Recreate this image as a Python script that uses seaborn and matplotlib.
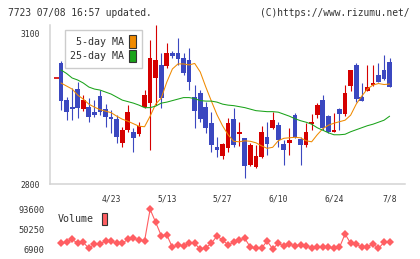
import numpy as np
import pandas as pd
import seaborn as sns
import matplotlib
matplotlib.use("Agg")
import matplotlib.pyplot as plt
from matplotlib.patches import Patch

# 60 trading days up to 7/8 (code 7723)
opens = [3041, 2967, 2953, 2989, 2949, 2953, 2943, 2975, 2949, 2934,
         2929, 2881, 2907, 2904, 2899, 2954, 2961, 3011, 3037, 3035,
         3060, 3060, 3050, 3047, 2974, 2982, 2954, 2921, 2874, 2856,
         2871, 2929, 2899, 2891, 2838, 2834, 2854, 2893, 2911, 2917,
         2880, 2882, 2937, 2889, 2877, 2919, 2937, 2967, 2935, 2904,
         2949, 2939, 2996, 3037, 2974, 2986, 2997, 3017, 3027, 3042]
highs = [3044, 2973, 2991, 3003, 2977, 2971, 2967, 2987, 2959, 2947,
         2937, 2914, 2957, 2911, 2924, 2987, 3087, 3117, 3061, 3081,
         3065, 3091, 3061, 3071, 2997, 2987, 2964, 2944, 2893, 2882,
         2931, 2951, 2923, 2892, 2882, 2878, 2916, 2923, 2944, 2923,
         2888, 2911, 2941, 2894, 2922, 2939, 2961, 2977, 2937, 2942,
         2951, 2997, 3027, 3041, 3001, 3037, 3037, 3041, 3057, 3050]
lows = [2947, 2927, 2927, 2931, 2945, 2923, 2933, 2937, 2913, 2901,
        2882, 2873, 2903, 2864, 2896, 2951, 2868, 2957, 2951, 3031,
        3051, 3037, 3017, 2987, 2911, 2923, 2901, 2864, 2854, 2849,
        2864, 2874, 2876, 2811, 2836, 2831, 2852, 2858, 2910, 2874,
        2838, 2858, 2892, 2838, 2874, 2908, 2931, 2908, 2902, 2903,
        2908, 2935, 2986, 2964, 2965, 2985, 2996, 3003, 3007, 2993]
closes = [2965, 2944, 2950, 2951, 2967, 2933, 2937, 2943, 2933, 2929,
          2894, 2907, 2944, 2891, 2915, 2977, 3050, 3047, 2971, 3060,
          3055, 3048, 3020, 3004, 2946, 2929, 2911, 2878, 2868, 2880,
          2921, 2878, 2903, 2836, 2878, 2856, 2904, 2880, 2927, 2888,
          2868, 2888, 2894, 2878, 2904, 2924, 2957, 2912, 2904, 2908,
          2939, 2982, 3027, 2969, 2966, 2994, 3002, 3004, 3009, 2994]
ma5 = [3001, 2995, 2989, 2977, 2969, 2959, 2953, 2948, 2945, 2942,
       2935, 2929, 2925, 2920, 2915, 2914, 2935, 2959, 2971, 3003,
       3029, 3039, 3039, 3037, 3040, 3023, 2993, 2965, 2938, 2916,
       2898, 2885, 2884, 2886, 2885, 2882, 2876, 2871, 2873, 2886,
       2891, 2892, 2893, 2892, 2886, 2884, 2898, 2910, 2917, 2921,
       2924, 2927, 2937, 2959, 2975, 2989, 2997, 3000, 2998, 2999]
ma25 = [3027, 3020, 3011, 3007, 3001, 2993, 2989, 2987, 2983, 2979,
        2973, 2967, 2964, 2961, 2957, 2952, 2952, 2955, 2961, 2963,
        2966, 2969, 2972, 2972, 2970, 2966, 2965, 2965, 2963, 2959,
        2957, 2956, 2954, 2952, 2949, 2946, 2945, 2944, 2944, 2943,
        2939, 2935, 2930, 2926, 2923, 2919, 2912, 2907, 2902, 2898,
        2898, 2899, 2904, 2908, 2912, 2916, 2919, 2923, 2927, 2935]
volume = [19840, 22010, 28510, 19840, 22010, 9000, 18390, 18390, 24890, 24890,
          19840, 19840, 28510, 30680, 27060, 24890, 93540, 65360, 36440, 37900,
          11170, 16220, 14050, 19840, 19840, 6900, 10430, 19840, 35730, 27060,
          16220, 22010, 27060, 30680, 11170, 9000, 9000, 24890, 7550, 19840,
          14050, 18390, 14050, 16220, 14050, 10430, 11170, 11170, 11170, 9000,
          11170, 40060, 19840, 18390, 11170, 12600, 18390, 9000, 22010, 22010]
prev_close = 3011
date_labels = ["4/23", "5/13", "5/27", "6/10", "6/24", "7/8"]
date_pos = [9, 19, 29, 39, 49, 59]
price_ticks = [2800, 3100]
vol_ticks = [6900, 50250, 93600]

RED = "#d50000"
BLUE = "#3b48c0"
ORANGE = "#f08a00"
GREEN = "#1aa31a"
VOLC = "#ff5e62"
AXC = "#d3d3d3"
TXT = "#333333"

sns.set_style("white")
plt.rcParams["font.family"] = ["DejaVu Sans Mono"]

df = pd.DataFrame({"open": opens, "high": highs, "low": lows, "close": closes,
                   "ma5": ma5, "ma25": ma25, "volume": volume})
df["x"] = np.arange(len(df))
up = df["close"] >= df["open"]
cols = np.where(up, RED, BLUE)

W, H = 420, 259
fig = plt.figure(figsize=(4.2, 2.59), dpi=100)
ax = fig.add_axes([50 / W, 1 - 184 / H, 355 / W, 159 / H])
axv = fig.add_axes([50 / W, 1 - 254 / H, 355 / W, 51 / H])

# candles
ax.vlines(df["x"], df["low"], df["high"], colors=cols, linewidth=0.8, zorder=2)
body = np.maximum((df["close"] - df["open"]).abs(), 2)
bottom = np.minimum(df["open"], df["close"])
ax.bar(df["x"], body, bottom=bottom, width=0.85, color=cols, linewidth=0, zorder=3)
ax.hlines(prev_close, -1.25, -0.35, colors=RED, linewidth=1.2, zorder=3)

sns.lineplot(data=df, x="x", y="ma5", ax=ax, color=ORANGE, linewidth=0.75, zorder=4)
sns.lineplot(data=df, x="x", y="ma25", ax=ax, color=GREEN, linewidth=0.75, zorder=4)

xlim = (-1.975, 61.76)
ax.set_xlim(*xlim)
ax.set_ylim(2800, 3116.5)
for s in ["top", "right"]:
    ax.spines[s].set_visible(False)
for s in ["left", "bottom"]:
    ax.spines[s].set_color(AXC)
    ax.spines[s].set_linewidth(1.1)
ax.set_xlabel("")
ax.set_ylabel("")
ax.set_yticks(price_ticks)
ax.set_yticklabels([str(v) for v in price_ticks])
ax.tick_params(axis="y", direction="inout", length=6, width=1, color=AXC,
               labelsize=5.8, labelcolor=TXT, pad=4.5)
ax.set_xticks(date_pos)
ax.set_xticklabels(date_labels)
ax.set_xticks(np.linspace(xlim[0], xlim[1], 12), minor=True)
ax.tick_params(axis="x", which="major", length=0, labelsize=5.8, labelcolor=TXT, pad=7.5)
ax.tick_params(axis="x", which="minor", direction="inout", length=6.5, width=1, color=AXC)

leg = ax.legend(handles=[Patch(facecolor=ORANGE, edgecolor="#333333", linewidth=0.8),
                         Patch(facecolor=GREEN, edgecolor="#333333", linewidth=0.8)],
                labels=["5-day MA", "25-day MA"], loc="upper left",
                bbox_to_anchor=(15 / 355, 154 / 159), borderaxespad=0,
                markerfirst=False, fancybox=False, framealpha=1, edgecolor="#cccccc",
                prop={"family": "DejaVu Sans Mono", "size": 7.2},
                handlelength=0.7, handleheight=1.5, handletextpad=0.47,
                labelspacing=0.23, borderpad=0.55)
leg.get_frame().set_linewidth(1.0)
for t in leg.get_texts():
    t.set_color(TXT)
leg.set_zorder(10)

# volume
sns.lineplot(data=df, x="x", y="volume", ax=axv, color=VOLC, linewidth=0.8,
             marker="D", markersize=4.0, markeredgewidth=0)
axv.set_xlim(*xlim)
axv.set_ylim(-3290, 107255)
for s in axv.spines.values():
    s.set_visible(False)
axv.set_xticks([])
axv.set_yticks(vol_ticks)
axv.set_yticklabels([str(v) for v in vol_ticks])
axv.tick_params(axis="y", length=0, labelsize=6.2, labelcolor=TXT, pad=4)
axv.set_xlabel("")
axv.set_ylabel("")
vleg = axv.legend(handles=[Patch(facecolor=VOLC, edgecolor="#333333", linewidth=0.8)],
                  labels=["Volume"], loc="upper left", bbox_to_anchor=(8 / 355, 41 / 51),
                  borderaxespad=0, borderpad=0, frameon=False, markerfirst=False,
                  prop={"family": "DejaVu Sans Mono", "size": 7.2},
                  handlelength=0.56, handleheight=1.5, handletextpad=0.77)
for t in vleg.get_texts():
    t.set_color(TXT)

fig.text(8 / W, 1 - 12.5 / H, "7723 07/08 16:57 updated.", ha="left", va="center",
         fontsize=6.9, color=TXT)
fig.text(409 / W, 1 - 12.5 / H, "(C)https://www.rizumu.net/", ha="right", va="center",
         fontsize=6.9, color=TXT)

fig.savefig("out.png", dpi=100, facecolor="white")
